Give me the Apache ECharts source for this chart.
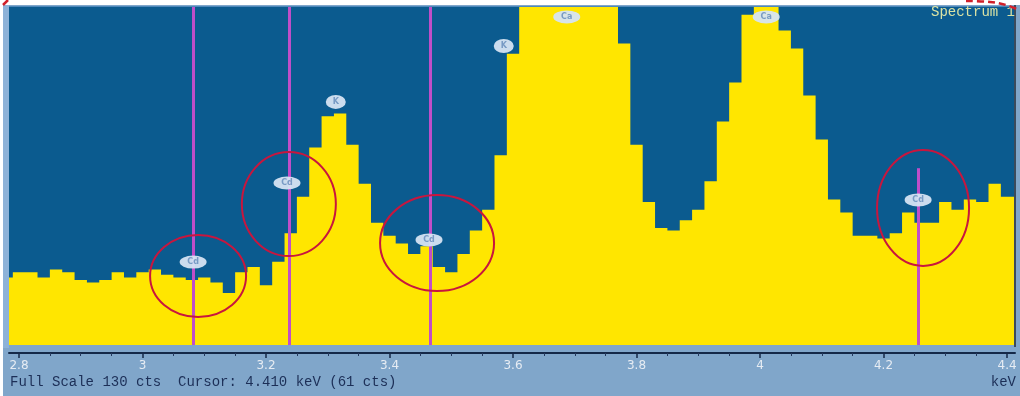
<!DOCTYPE html>
<html>
<head>
<meta charset="utf-8">
<script src="https://cdn.jsdelivr.net/npm/echarts@6/dist/echarts.min.js"></script>
<style>
  html, body { margin: 0; padding: 0; background: #ffffff; }
  #wrap { position: relative; width: 1020px; height: 396px; overflow: hidden; background: #ffffff; }
  #frame { position: absolute; left: 3px; top: 5px; width: 1017px; height: 391px; background: #80a6ca; }
  #chart { position: absolute; left: 0; top: 0; width: 1020px; height: 396px; }
</style>
</head>
<body>
<div id="wrap">
  <div id="frame"></div>
  <div id="chart"></div>
</div>
<script>
// ---------------- data ----------------
// Histogram channels: first channel starts at 2.77 keV, each channel 0.02 keV wide
const channelStart = 2.77;
const channelWidth = 0.02;
const counts = [
  26, 28, 28, 26, 29, 28, 25, 24, 25, 28,
  26, 28, 29, 27, 26, 25, 26, 24, 20, 28,
  30, 23, 32, 43, 57, 76, 88, 89, 77, 62,
  47, 42, 39, 35, 38, 30, 28, 35, 44, 52,
  73, 112, 136, 148, 158, 163, 160, 152, 142, 134,
  116, 77, 55, 45, 44, 48, 52, 63, 86, 101,
  127, 134, 132, 121, 114, 96, 79, 56, 51, 42,
  42, 41, 43, 51, 47, 47, 55, 52, 56, 55,
  62, 57, 57
];

// x axis tick labels
const tickValues = [2.8, 3.0, 3.2, 3.4, 3.6, 3.8, 4.0, 4.2, 4.4];
const tickLabels = ["2.8", "3", "3.2", "3.4", "3.6", "3.8", "4", "4.2", "4.4"];
const minorTickValues = [2.85, 2.9, 2.95, 3.05, 3.1, 3.15, 3.25, 3.3, 3.35, 3.45, 3.5, 3.55,
  3.65, 3.7, 3.75, 3.85, 3.9, 3.95, 4.05, 4.1, 4.15, 4.25, 4.3, 4.35];

// element marker lines (keV, top count)
const markerEnergies = [3.082, 3.237, 3.466, 4.256];
const markerTops = [130, 130, 130, 68];

// peak labels: [keV, count, text]
const peakLabelEnergies = [3.082, 3.234, 3.464, 4.256, 3.313, 3.585, 3.687, 4.010];
const peakLabelCounts = [31.9, 62.3, 40.4, 55.8, 93.5, 115, 126.2, 126.2];
const peakLabelTexts = ["Cd", "Cd", "Cd", "Cd", "K", "K", "Ca", "Ca"];

// red annotation circles: centre keV, centre count
const circleEnergies = [3.090, 3.237, 3.477, 4.264];
const circleCounts = [26.5, 54.2, 39.2, 52.7];
const circleRadii = [[48, 41], [47, 52], [57, 48], [46, 58]];

const titleText = "Spectrum 1";
const footerText = "Full Scale 130 cts  Cursor: 4.410 keV (61 cts)";
const unitText = "keV";

// ---------------- chart ----------------
const X_MIN = 2.78381;
const X_MAX = 4.4129;

const lineData = counts.map((c, i) => [channelStart + i * channelWidth, c]);
lineData.push([channelStart + counts.length * channelWidth, counts[counts.length - 1]]);

const markLineData = markerEnergies.map((e, i) => [
  { coord: [e, markerTops[i]] },
  { coord: [e, 0] }
]);

const labelData = peakLabelEnergies.map((e, i) => ({
  value: [e, peakLabelCounts[i]],
  name: peakLabelTexts[i],
  symbolSize: peakLabelTexts[i] === "K" ? [20, 14] : [27, 13]
}));

function labelFor(v) {
  for (let i = 0; i < tickValues.length; i++) {
    if (Math.abs(v - tickValues[i]) < 1e-6) return tickLabels[i];
  }
  return "";
}

const chart = echarts.init(document.getElementById('chart'), null, { renderer: 'canvas' });

chart.setOption({
  animation: false,
  backgroundColor: 'transparent',
  grid: {
    left: 9, top: 7, width: 1006, height: 338,
    show: true, backgroundColor: '#0b5b8f', borderWidth: 0
  },
  xAxis: [
    {
      type: 'value', min: X_MIN, max: X_MAX, position: 'bottom', offset: 8,
      axisLine: { show: true, onZero: false, lineStyle: { color: '#142848', width: 2 } },
      axisTick: { show: true, customValues: tickValues, length: 5, lineStyle: { color: '#142848', width: 1.5 } },
      axisLabel: {
        show: true, customValues: tickValues, formatter: labelFor,
        color: '#e6ecf3', fontSize: 12, fontFamily: 'DejaVu Sans', margin: 7
      },
      splitLine: { show: false }
    },
    {
      type: 'value', min: X_MIN, max: X_MAX, position: 'bottom', offset: 8,
      axisLine: { show: false, onZero: false },
      axisTick: { show: true, customValues: minorTickValues, length: 3, lineStyle: { color: '#24395e', width: 1 } },
      axisLabel: { show: false },
      splitLine: { show: false }
    }
  ],
  yAxis: { type: 'value', min: 0, max: 130, show: false },
  series: [
    {
      type: 'line',
      step: 'end',
      data: lineData,
      symbol: 'none',
      lineStyle: { width: 0, color: '#ffe600' },
      areaStyle: { color: '#ffe600', opacity: 1 },
      clip: true,
      z: 2,
      markLine: {
        silent: true,
        symbol: 'none',
        label: { show: false },
        lineStyle: { color: '#c04ec8', width: 3, type: 'solid', opacity: 1 },
        data: markLineData
      }
    },
    {
      type: 'scatter',
      data: labelData,
      symbol: 'path://M0 5 A10 5 0 1 0 20 5 A10 5 0 1 0 0 5 Z',
      itemStyle: { color: '#d6e4f3', opacity: 0.95 },
      label: {
        show: true, position: 'inside', formatter: p => p.name,
        color: '#7397c2', fontSize: 8, fontFamily: 'DejaVu Sans', fontWeight: 'bold'
      },
      z: 5
    }
  ],
  graphic: [
    { type: 'rect', id: 'topline', shape: { x: 9, y: 6, width: 1006, height: 1 }, style: { fill: '#4f89bb' }, z: 10 },
    { type: 'rect', id: 'rborder', shape: { x: 1014, y: 5, width: 2, height: 342 }, style: { fill: '#3b4b5c' }, z: 10 },
    { type: 'rect', id: 'lstrip', shape: { x: 3, y: 5, width: 6, height: 343 }, style: { fill: '#8db2d8' }, z: 10 },
    {
      type: 'text', id: 'title', right: 5, top: 5, z: 20,
      style: { text: titleText, fill: '#d9e2a4', font: '14px "Liberation Mono"' }
    },
    {
      type: 'text', id: 'footer', left: 10, top: 375, z: 20,
      style: { text: footerText, fill: '#1c2f57', font: '14px "Liberation Mono"' }
    },
    {
      type: 'text', id: 'unit', right: 4, top: 375, z: 20,
      style: { text: unitText, fill: '#1c2f57', font: '14px "Liberation Mono"' }
    },
    {
      type: 'polyline', id: 'dashTR', z: 20,
      shape: { points: [[966, 1], [990, 2], [1006, 5], [1019, 10]], smooth: 0.4 },
      style: { stroke: '#d0202a', lineWidth: 2.5, lineDash: [7, 4], fill: null }
    },
    {
      type: 'line', id: 'dashTL', z: 20,
      shape: { x1: 3, y1: 5, x2: 8, y2: 0 },
      style: { stroke: '#d0202a', lineWidth: 2.5 }
    }
  ]
});

// red annotation ellipses positioned through the chart's own scales
const circleGraphics = circleEnergies.map((e, i) => {
  const p = chart.convertToPixel({ xAxisIndex: 0, yAxisIndex: 0 }, [e, circleCounts[i]]);
  return {
    type: 'ellipse', id: 'circ' + i, z: 15,
    shape: { cx: p[0], cy: p[1], rx: circleRadii[i][0], ry: circleRadii[i][1] },
    style: { stroke: '#c8163e', lineWidth: 2, fill: null }
  };
});
chart.setOption({ graphic: circleGraphics });
</script>
</body>
</html>
